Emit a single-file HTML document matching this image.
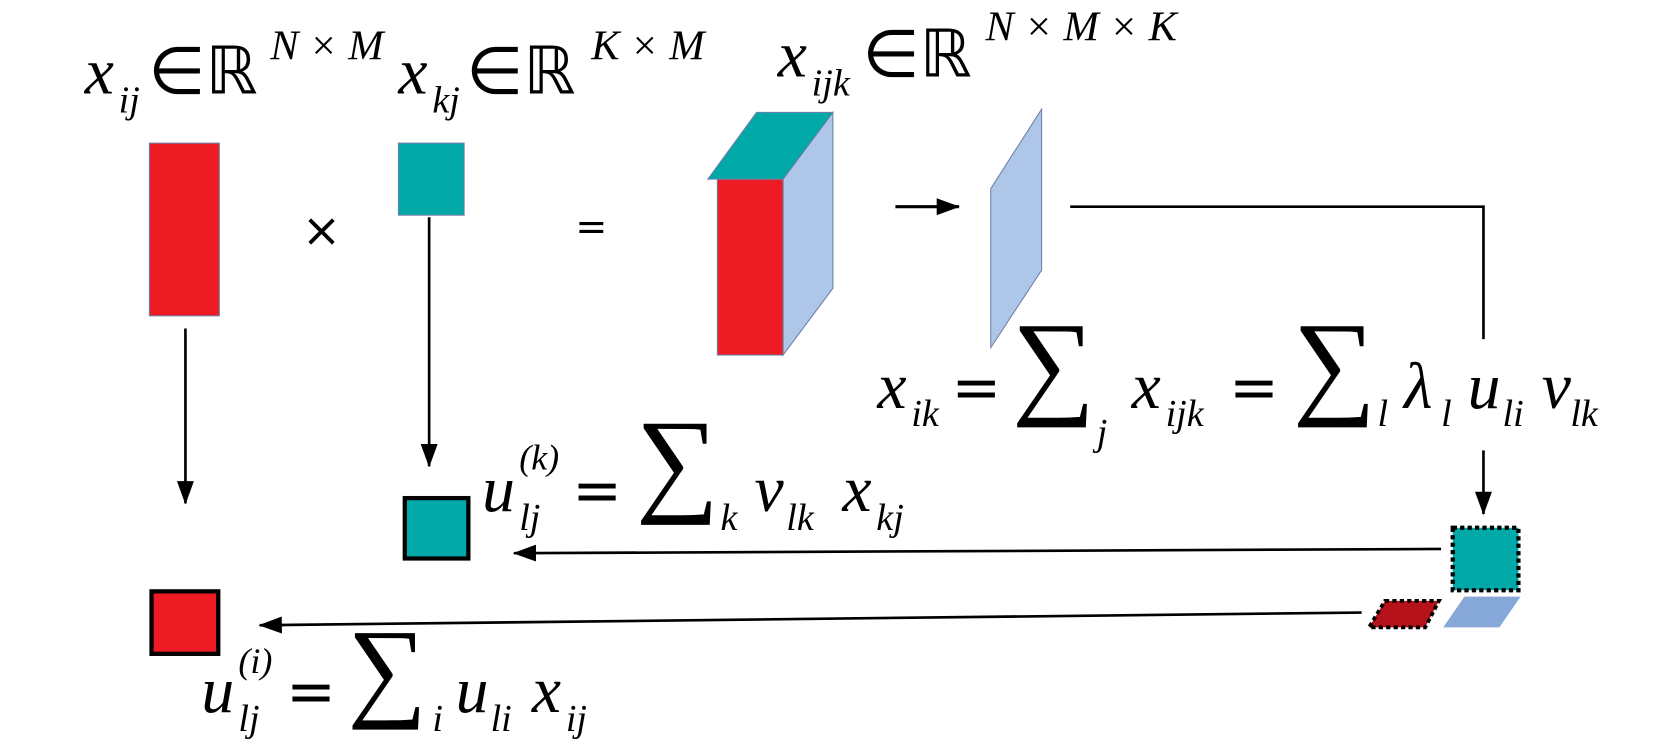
<!DOCTYPE html>
<html><head><meta charset="utf-8"><style>
body{margin:0;background:#fff}
svg{display:block}
.m{font-family:"Liberation Serif",serif;font-style:italic;fill:#000}
.r{font-family:"DejaVu Sans",sans-serif;fill:#000}
.s{font-family:"Liberation Serif",serif;fill:#000}
</style></head><body>
<svg width="1653" height="744" viewBox="0 0 1560 702">
<defs><marker id="ahb" markerWidth="22" markerHeight="16" refX="21" refY="8" orient="auto" markerUnits="userSpaceOnUse" viewBox="0 0 22 16"><path d="M0,0 L22,8 L0,16 Z"/></marker></defs>

<g>
<text class="m" x="80" y="88" font-size="62">x</text><text class="m" x="112" y="106" font-size="36">ij</text>
<text class="r" x="140" y="88" font-size="62">∈ℝ</text>
<text class="m" x="255" y="56" font-size="40" xml:space="preserve">N × M</text></g>
<g>
<text class="m" x="376" y="88" font-size="62">x</text><text class="m" x="408" y="106" font-size="36">kj</text>
<text class="r" x="440" y="88" font-size="62">∈ℝ</text>
<text class="m" x="558" y="56" font-size="40" xml:space="preserve">K × M</text></g>
<g>
<text class="m" x="734" y="72" font-size="62">x</text><text class="m" x="766" y="90" font-size="36">ijk</text>
<text class="r" x="814" y="72" font-size="62">∈ℝ</text>
<text class="m" x="930" y="38" font-size="40" xml:space="preserve">N × M × K</text></g>

<rect x="141" y="135" width="66" height="163" fill="#ed1c24" stroke="#6d7fa8"/>
<text class="r" x="285" y="232" font-size="44">×</text>
<rect x="376" y="135" width="62" height="68" fill="#00a8a8" stroke="#6d7fa8"/>
<text class="r" x="543" y="226" font-size="36">=</text>

<g stroke="#6d7fa8" stroke-width="1">
<polygon points="739,169 786,106 786,272 739,335" fill="#aec6e8"/>
<rect x="677" y="169" width="62" height="166" fill="#ed1c24"/>
<polygon points="668,169 714,106 786,106 739,169" fill="#00a8a8"/></g>
<line x1="845" y1="195" x2="905" y2="195" stroke="#000" stroke-width="3" marker-end="url(#ahb)"/>
<polygon points="935,178 983,103 983,255 935,328" fill="#aec6e8" stroke="#6d7fa8"/>
<polyline points="1010,195 1400,195 1400,320" fill="none" stroke="#000" stroke-width="2.5"/>

<g>
<text class="m" x="828" y="385" font-size="62">x</text><text class="m" x="860" y="402" font-size="36">ik</text>
<text class="r" x="898" y="385" font-size="56">=</text>
<text class="s" x="955" y="380" font-size="110">∑</text><text class="m" x="1035" y="420" font-size="36">j</text>
<text class="m" x="1068" y="385" font-size="62">x</text><text class="m" x="1100" y="402" font-size="36">ijk</text>
<text class="r" x="1160" y="385" font-size="56">=</text>
<text class="s" x="1220" y="380" font-size="110">∑</text><text class="m" x="1300" y="402" font-size="36">l</text>
<text class="m" x="1325" y="385" font-size="62">λ</text><text class="m" x="1360" y="402" font-size="36">l</text>
<text class="m" x="1385" y="385" font-size="62">u</text><text class="m" x="1418" y="402" font-size="36">li</text>
<text class="m" x="1455" y="385" font-size="62">v</text><text class="m" x="1482" y="402" font-size="36">lk</text></g>

<line x1="1400" y1="425" x2="1400" y2="485" stroke="#000" stroke-width="2.5" marker-end="url(#ahb)"/>
<rect x="1371" y="498" width="62" height="59" fill="#00a8a8" stroke="#000" stroke-width="4" stroke-dasharray="4,3"/>
<polygon points="1307,567 1358,567 1345,592 1292,592" fill="#b5121b" stroke="#000" stroke-width="3.5" stroke-dasharray="4,3"/>
<polygon points="1382,563 1435,563 1415,592 1362,592" fill="#85a8d8"/>

<line x1="1360" y1="518" x2="485" y2="522" stroke="#000" stroke-width="2.5" marker-end="url(#ahb)"/>
<line x1="1285" y1="578" x2="245" y2="590" stroke="#000" stroke-width="2.5" marker-end="url(#ahb)"/>
<line x1="175" y1="310" x2="175" y2="475" stroke="#000" stroke-width="2.5" marker-end="url(#ahb)"/>
<line x1="405" y1="205" x2="405" y2="440" stroke="#000" stroke-width="2.5" marker-end="url(#ahb)"/>

<rect x="382" y="470" width="60" height="57" fill="#00a8a8" stroke="#000" stroke-width="4"/>
<rect x="143" y="558" width="63" height="59" fill="#ed1c24" stroke="#000" stroke-width="4"/>

<g>
<text class="m" x="455" y="482" font-size="62">u</text><text class="m" x="490" y="500" font-size="36">lj</text>
<text class="m" x="490" y="443" font-size="34">(k)</text>
<text class="r" x="540" y="482" font-size="56">=</text>
<text class="s" x="600" y="472" font-size="110">∑</text><text class="m" x="680" y="500" font-size="36">k</text>
<text class="m" x="712" y="482" font-size="62">v</text><text class="m" x="742" y="500" font-size="36">lk</text>
<text class="m" x="795" y="482" font-size="62">x</text><text class="m" x="827" y="500" font-size="36">kj</text></g>

<g>
<text class="m" x="190" y="672" font-size="62">u</text><text class="m" x="225" y="690" font-size="36">lj</text>
<text class="m" x="225" y="635" font-size="34">(i)</text>
<text class="r" x="270" y="672" font-size="56">=</text>
<text class="s" x="328" y="666" font-size="105">∑</text><text class="m" x="408" y="690" font-size="36">i</text>
<text class="m" x="430" y="672" font-size="62">u</text><text class="m" x="463" y="690" font-size="36">li</text>
<text class="m" x="502" y="672" font-size="62">x</text><text class="m" x="534" y="690" font-size="36">ij</text></g>
</svg>
</body></html>
